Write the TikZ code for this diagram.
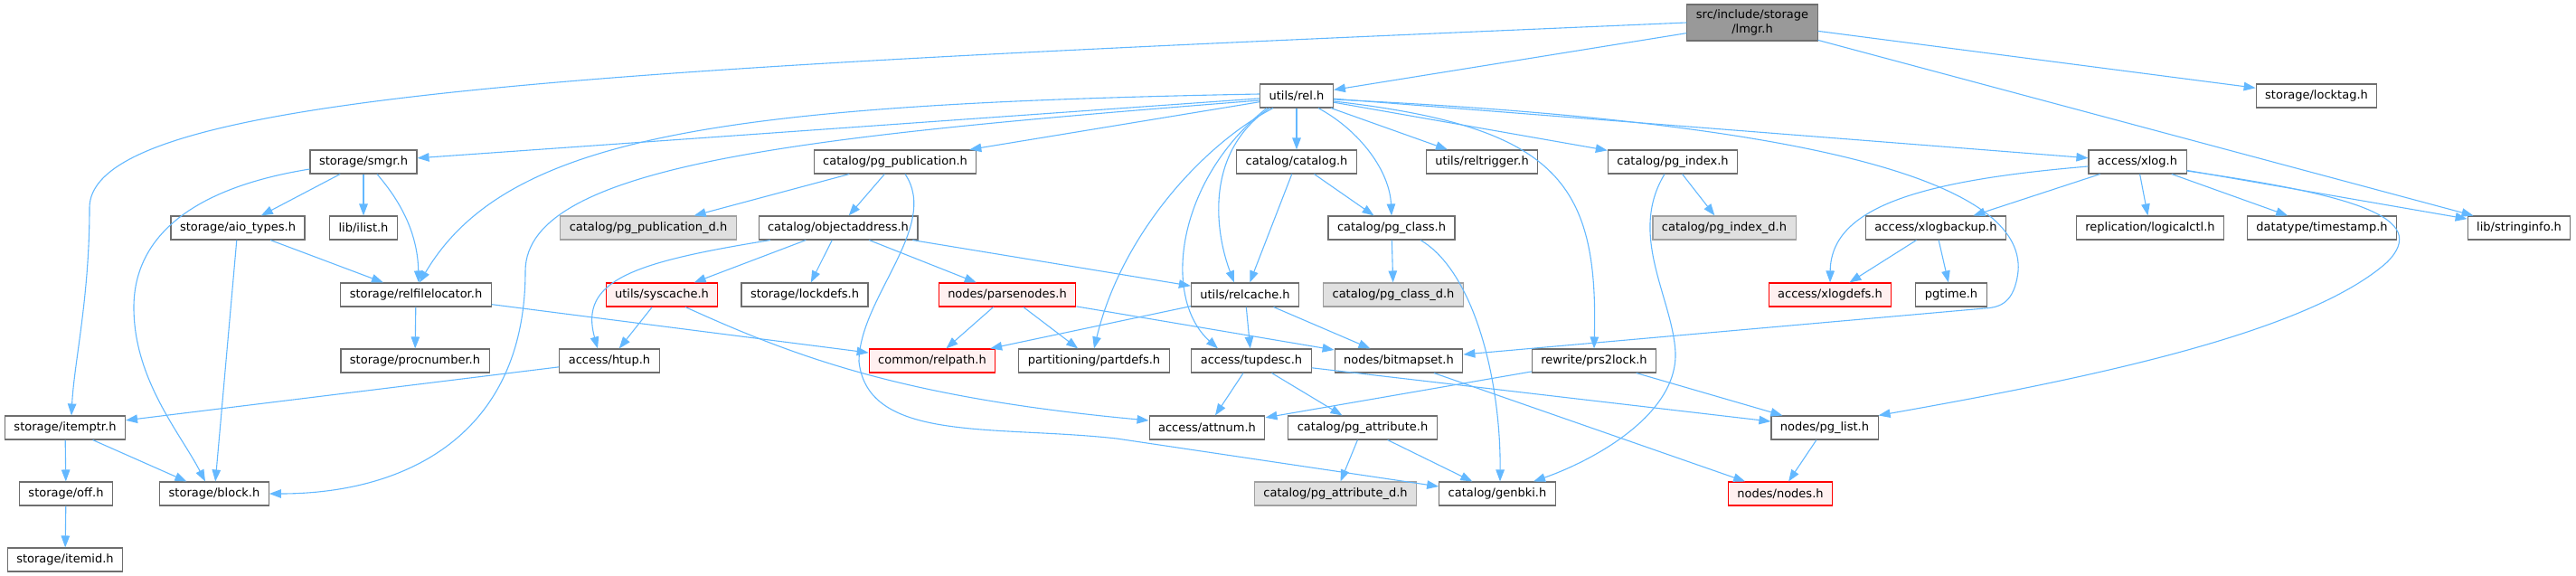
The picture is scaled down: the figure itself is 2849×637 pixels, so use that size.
\documentclass[tikz,border=0pt]{standalone}
\usepackage{fontspec}
\setmainfont{DejaVu Sans}
\usetikzlibrary{arrows.meta}
\definecolor{edgeblue}{RGB}{99,184,255}
\definecolor{boxgrey}{RGB}{110,110,110}
\definecolor{rootfill}{RGB}{153,153,153}
\definecolor{undocfill}{RGB}{224,224,224}
\definecolor{undocline}{RGB}{160,160,160}
\definecolor{truncfill}{RGB}{255,240,240}

\begin{document}
\begin{tikzpicture}[x=1pt, y=-1pt, line width=1.1pt]
            \tikzstyle{every node}=[font=\fontsize{13}{15.6}\selectfont]
            \tikzstyle{file}=[draw=boxgrey, fill=white, rectangle, minimum height=26pt, inner xsep=10pt, inner ysep=0pt]
            \tikzstyle{undoc}=[file, draw=undocline, fill=undocfill]
            \tikzstyle{trunc}=[file, draw=red, fill=truncfill]
            \tikzstyle{root}=[file, fill=rootfill, minimum height=40pt, align=center]
            \tikzstyle{dep}=[draw=edgeblue, -{Triangle[length=13pt,width=9.5pt]}]
            \useasboundingbox (0,0) rectangle (2849,637);

            \node[root] (lmgr) at (1938, 25) {src/include/storage\\/lmgr.h};
            \node[file] (rel) at (1434, 106) {utils/rel.h};
            \node[file] (locktag) at (2562, 106) {storage/locktag.h};
            \node[file] (smgr) at (402, 179) {storage/smgr.h};
            \node[file] (pgpub) at (990, 179) {catalog/pg\_publication.h};
            \node[file] (catalog) at (1434, 179) {catalog/catalog.h};
            \node[file] (reltrig) at (1639, 179) {utils/reltrigger.h};
            \node[file] (pgindex) at (1850, 179) {catalog/pg\_index.h};
            \node[file] (xlog) at (2364, 179) {access/xlog.h};
            \node[file] (aiotypes) at (263, 252) {storage/aio\_types.h};
            \node[file] (ilist) at (402, 252) {lib/ilist.h};
            \node[undoc] (pgpubd) at (717, 252) {catalog/pg\_publication\_d.h};
            \node[file] (objaddr) at (927, 252) {catalog/objectaddress.h};
            \node[file] (pgclass) at (1539, 252) {catalog/pg\_class.h};
            \node[undoc] (pgindexd) at (1907, 252) {catalog/pg\_index\_d.h};
            \node[file] (xlogbackup) at (2141, 252) {access/xlogbackup.h};
            \node[file] (logicalctl) at (2378, 252) {replication/logicalctl.h};
            \node[file] (timestamp) at (2568, 252) {datatype/timestamp.h};
            \node[file] (stringinfo) at (2786, 252) {lib/stringinfo.h};
            \node[file] (relfileloc) at (460, 326) {storage/relfilelocator.h};
            \node[trunc] (syscache) at (732, 326) {utils/syscache.h};
            \node[file] (lockdefs) at (890, 326) {storage/lockdefs.h};
            \node[trunc] (parsenodes) at (1114, 326) {nodes/parsenodes.h};
            \node[file] (relcache) at (1377, 326) {utils/relcache.h};
            \node[undoc] (pgclassd) at (1541, 326) {catalog/pg\_class\_d.h};
            \node[trunc] (xlogdefs) at (2024, 326) {access/xlogdefs.h};
            \node[file] (pgtime) at (2158, 326) {pgtime.h};
            \node[file] (procnumber) at (459, 399) {storage/procnumber.h};
            \node[file] (htup) at (674, 399) {access/htup.h};
            \node[trunc] (relpath) at (1031, 399) {common/relpath.h};
            \node[file] (partdefs) at (1210, 399) {partitioning/partdefs.h};
            \node[file] (tupdesc) at (1384, 399) {access/tupdesc.h};
            \node[file] (bitmapset) at (1547, 399) {nodes/bitmapset.h};
            \node[file] (prslock) at (1763, 399) {rewrite/prs2lock.h};
            \node[file] (itemptr) at (72, 473) {storage/itemptr.h};
            \node[file] (attnum) at (1335, 473) {access/attnum.h};
            \node[file] (pgattr) at (1507, 473) {catalog/pg\_attribute.h};
            \node[file] (pglist) at (2018, 473) {nodes/pg\_list.h};
            \node[file] (off) at (73, 546) {storage/off.h};
            \node[file] (block) at (237, 546) {storage/block.h};
            \node[undoc] (pgattrd) at (1477, 546) {catalog/pg\_attribute\_d.h};
            \node[file] (genbki) at (1656, 546) {catalog/genbki.h};
            \node[trunc] (nodes) at (1969, 546) {nodes/nodes.h};
            \node[file] (itemid) at (72, 619) {storage/itemid.h};

            % lmgr.h
            \draw[dep] (lmgr) -- (rel);
            \draw[dep] (lmgr) -- (locktag);
            \draw[dep] (lmgr) -- (stringinfo);
            \draw[dep] (lmgr.west) .. controls (700,75) and (99,100) .. (99,230) .. controls (99,330) and (82,400) .. ([xshift=7pt]itemptr.north);

            % utils/rel.h
            \draw[dep] (rel) -- (smgr);
            \draw[dep] (rel) -- (pgpub);
            \draw[dep] (rel) -- (catalog);
            \draw[dep] (rel) -- (reltrig);
            \draw[dep] (rel) -- (pgindex);
            \draw[dep] (rel) -- (xlog);
            \draw[dep] ([yshift=2pt]rel.west) .. controls (800,115) and (560,150) .. ([xshift=4pt]relfileloc.north);
            \draw[dep] ([yshift=-5pt]rel.west) .. controls (900,150) and (581,180) .. (581,300) .. controls (581,480) and (450,546) .. (block.east);
            \draw[dep] ([yshift=-4pt]rel.east) .. controls (2000,135) and (2240,200) .. (2232,300) .. controls (2228,335) and (2212,340) .. (2195,341) -- ([yshift=7pt]bitmapset.east);
            \draw[dep] ([xshift=24pt]rel.south) .. controls (1505,145) and (1537,190) .. (pgclass.north);
            \draw[dep] ([xshift=-30pt]rel.south) .. controls (1330,170) and (1345,260) .. ([xshift=-12pt]relcache.north);
            \draw[dep] ([xshift=-33pt]rel.south) .. controls (1300,200) and (1285,330) .. ([xshift=-37pt]tupdesc.north);
            \draw[dep] ([xshift=-26pt]rel.south) .. controls (1330,160) and (1240,260) .. (partdefs.north);
            \draw[dep] ([yshift=-6pt]rel.east) .. controls (1720,140) and (1768,200) .. (prslock.north);

            % catalogs
            \draw[dep] (catalog) -- (pgclass);
            \draw[dep] (catalog) -- (relcache);
            \draw[dep] (pgclass) -- (pgclassd);
            \draw[dep] ([xshift=32pt]pgclass.south) .. controls (1630,300) and (1660,420) .. ([xshift=3pt]genbki.north);
            \draw[dep] (pgindex) -- (pgindexd);
            \draw[dep] ([xshift=-9pt]pgindex.south) .. controls (1800,260) and (1850,330) .. (1853,390) .. controls (1855,460) and (1760,510) .. ([xshift=40pt]genbki.north);
            \draw[dep] (pgpub) -- (pgpubd);
            \draw[dep] (pgpub) -- (objaddr);
            \draw[dep] ([xshift=11pt]pgpub.south) .. controls (1040,250) and (950,330) .. (950,400) .. controls (960,490) and (1100,470) .. (1235,485) -- ([yshift=8pt]genbki.west);
            \draw[dep] (objaddr) -- (syscache);
            \draw[dep] (objaddr) -- (lockdefs);
            \draw[dep] (objaddr) -- (parsenodes);
            \draw[dep] (objaddr) -- (relcache);
            \draw[dep] ([xshift=-75pt]objaddr.south) .. controls (700,290) and (640,310) .. ([xshift=-13pt]htup.north);

            % storage
            \draw[dep] (smgr) -- (aiotypes);
            \draw[dep] (smgr) -- (ilist);
            \draw[dep] ([xshift=15pt]smgr.south) .. controls (445,225) and (462,260) .. ([xshift=3pt]relfileloc.north);
            \draw[dep] ([yshift=-8pt]smgr.west) .. controls (200,210) and (148,270) .. (148,340) .. controls (148,420) and (200,480) .. ([xshift=-10pt]block.north);
            \draw[dep] (aiotypes) -- (relfileloc);
            \draw[dep] (aiotypes) -- (block);
            \draw[dep] (relfileloc) -- (procnumber);
            \draw[dep] (relfileloc) -- (relpath);
            \draw[dep] (htup) -- (itemptr);
            \draw[dep] (itemptr) -- (off);
            \draw[dep] (itemptr) -- (block);
            \draw[dep] (off) -- (itemid);

            % utils, nodes, access
            \draw[dep] (syscache) -- (htup);
            \draw[dep] ([xshift=26pt]syscache.south) .. controls (880,395) and (1000,440) .. ([yshift=8pt]attnum.west);
            \draw[dep] (parsenodes) -- (relpath);
            \draw[dep] (parsenodes) -- (partdefs);
            \draw[dep] (parsenodes) -- (bitmapset);
            \draw[dep] (relcache) -- (relpath);
            \draw[dep] (relcache) -- (tupdesc);
            \draw[dep] (relcache) -- (bitmapset);
            \draw[dep] (tupdesc) -- (attnum);
            \draw[dep] (tupdesc) -- (pgattr);
            \draw[dep] (tupdesc) -- (pglist);
            \draw[dep] (bitmapset) -- (nodes);
            \draw[dep] (prslock) -- (attnum);
            \draw[dep] (prslock) -- (pglist);
            \draw[dep] (pgattr) -- (pgattrd);
            \draw[dep] (pgattr) -- (genbki);
            \draw[dep] (pglist) -- (nodes);

            % access/xlog.h
            \draw[dep] (xlog) -- (xlogbackup);
            \draw[dep] (xlog) -- (logicalctl);
            \draw[dep] (xlog) -- (timestamp);
            \draw[dep] (xlog) -- (stringinfo);
            \draw[dep] ([yshift=-5pt]xlog.west) .. controls (2120,200) and (2025,230) .. (xlogdefs.north);
            \draw[dep] ([yshift=-10pt]xlog.east) .. controls (2600,215) and (2690,240) .. (2640,290) .. controls (2550,370) and (2300,420) .. (pglist.north east);
            \draw[dep] (xlogbackup) -- (xlogdefs);
            \draw[dep] (xlogbackup) -- (pgtime);
\end{tikzpicture}
\end{document}
